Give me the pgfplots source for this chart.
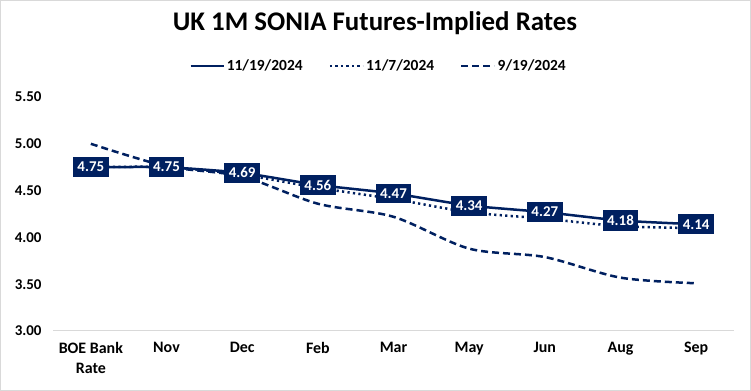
\documentclass[border=0pt]{standalone}
\usepackage{fontspec}
\setmainfont{Carlito}
\usepackage{pgfplots}
\pgfplotsset{compat=1.18}
\definecolor{navy}{HTML}{002060}
\definecolor{bordergray}{HTML}{D9D9D9}
\begin{document}
\begin{tikzpicture}
\draw[bordergray, line width=1bp] (0.5bp,0.5bp) rectangle (750.5bp,390.5bp);
\node[font=\bfseries\fontsize{27}{30}\selectfont, text=black] at (375bp,368bp) {UK 1M SONIA Futures-Implied Rates};
\begin{axis}[
  at={(53bp,60bp)}, anchor=south west,
  scale only axis, width=681bp, height=234bp,
  xmin=-0.5, xmax=8.5, ymin=3, ymax=5.5,
  xtick={0,...,8},
  xticklabels={{BOE Bank\\Rate},Nov,Dec,Feb,Mar,May,Jun,Aug,Sep},
  xticklabel style={align=center, font=\bfseries\fontsize{16}{20}\selectfont, yshift=-8bp},
  ytick={3,3.5,4,4.5,5,5.5},
  yticklabel style={/pgf/number format/.cd, fixed, fixed zerofill, precision=2, /tikz/.cd, font=\bfseries\fontsize{15}{18}\selectfont, xshift=-8bp},
  /pgf/number format/assume math mode=true,
  axis x line*=bottom, axis y line*=left,
  x axis line style={bordergray, line width=1bp, -},
  y axis line style={draw=none},
  tick style={draw=none},
  legend columns=3,
  legend style={at={(0.5,1)}, anchor=center, yshift=31bp, xshift=-15bp, draw=none, fill=none,
    font=\bfseries\fontsize{15.5}{18}\selectfont,
    /tikz/every even column/.append style={column sep=24bp}},
  legend image code/.code={\draw[#1] (0bp,0bp) -- (33bp,0bp);},
]
\addlegendimage{navy, line width=2.5bp}
\addlegendentry{11/19/2024}
\addlegendimage{navy, line width=2.5bp, dash pattern=on 2.2bp off 3.3bp}
\addlegendentry{11/7/2024}
\addlegendimage{navy, line width=2.5bp, dash pattern=on 7bp off 4bp}
\addlegendentry{9/19/2024}

\addplot[navy, line width=2.5bp, dash pattern=on 7bp off 4bp, smooth, tension=0.5, forget plot] coordinates {
 (0,5.00) (1,4.76) (2,4.65) (3,4.36) (4,4.22) (5,3.88) (6,3.79) (7,3.57) (8,3.51)};
\addplot[navy, line width=2.5bp, dash pattern=on 2.2bp off 3.3bp, smooth, tension=0.5, forget plot] coordinates {
 (0,4.75) (1,4.75) (2,4.67) (3,4.53) (4,4.41) (5,4.27) (6,4.20) (7,4.12) (8,4.10)};
\addplot[navy, line width=2.5bp, smooth, tension=0.3, forget plot,
  nodes near coords,
  point meta=explicit symbolic,
  every node near coord/.append style={anchor=center, fill=navy, text=white,
    font=\bfseries\fontsize{15}{18}\selectfont, inner xsep=4.5bp, inner ysep=5bp}
] coordinates {
 (0,4.75) [4.75] (1,4.75) [4.75] (2,4.69) [4.69] (3,4.56) [4.56] (4,4.47) [4.47]
 (5,4.34) [4.34] (6,4.27) [4.27] (7,4.18) [4.18] (8,4.14) [4.14]};
\end{axis}
\end{tikzpicture}
\end{document}
